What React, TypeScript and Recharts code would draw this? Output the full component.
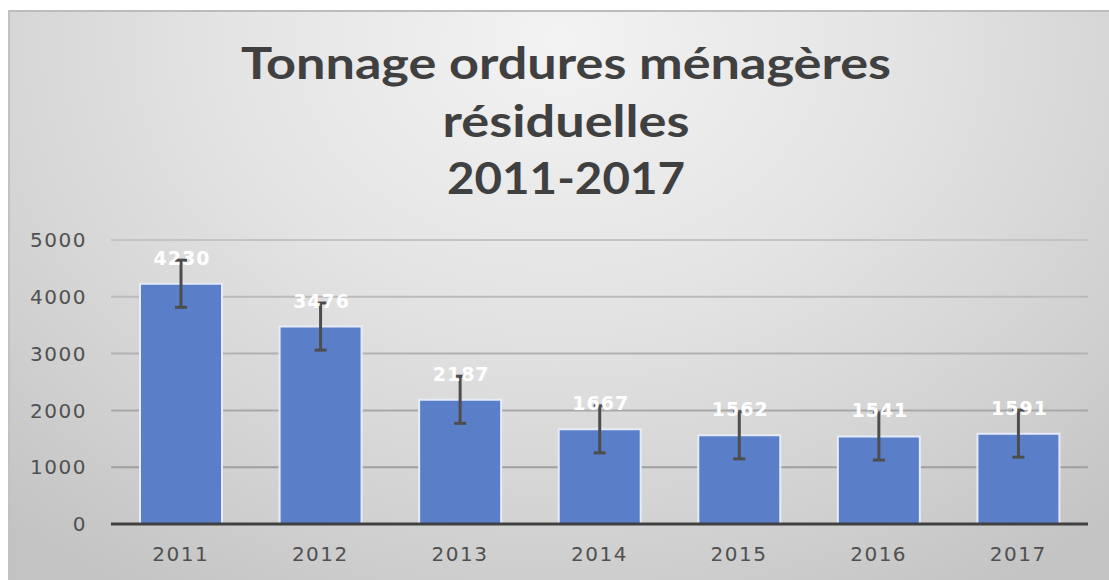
import React from 'react';
import { BarChart, Bar, XAxis, YAxis, CartesianGrid, ErrorBar, LabelList } from 'recharts';

const years = ['2011', '2012', '2013', '2014', '2015', '2016', '2017'];
const tonnage = [4230, 3476, 2187, 1667, 1562, 1541, 1591];
const errors = [415, 415, 415, 415, 415, 415, 415];
const yTicks = [0, 1000, 2000, 3000, 4000, 5000];
const titleLines = ['Tonnage ordures ménagères', 'résiduelles', '2011-2017'];

const data = years.map((y, i) => ({ year: y, value: tonnage[i], err: errors[i] }));

const tickStyle = {
  fill: '#505050',
  fontFamily: 'DejaVu Sans',
  fontSize: 20,
  letterSpacing: 1.5,
};

const renderLabel = (props: any) => {
  const { x, y, width, value } = props;
  return (
    <text
      x={Number(x) + Number(width) / 2 + 1}
      y={Number(y) - 19}
      textAnchor="middle"
      fill="#ffffff"
      fontFamily="DejaVu Sans"
      fontWeight="bold"
      fontSize={19}
      letterSpacing={1}
    >
      {value}
    </text>
  );
};

export default function App() {
  return (
    <div>
      <style>{`html,body{overflow:hidden;}`}</style>
      <div
        style={{
          position: 'absolute',
          left: 8,
          top: 10,
          width: 1101,
          height: 570,
          boxSizing: 'border-box',
          borderTop: '2px solid #bcbcbc',
          borderLeft: '2px solid #c2c2c2',
          background:
            'radial-gradient(ellipse 75% 115% at 50% 5%, #f3f3f3 0%, #e4e4e4 40%, #d2d2d2 75%, #c3c3c3 100%)',
        }}
      />
      <div style={{ position: 'absolute', left: 0, top: 0 }}>
        <BarChart
          width={1109}
          height={580}
          data={data}
          margin={{ top: 240, right: 21, bottom: 26, left: 0 }}
          barCategoryGap="20%"
        >
          <defs>
            <linearGradient id="gridGrad" gradientUnits="userSpaceOnUse" x1="0" y1="240" x2="0" y2="524">
              <stop offset="0%" stopColor="#c4c4c4" />
              <stop offset="100%" stopColor="#969696" />
            </linearGradient>
          </defs>
          <CartesianGrid vertical={false} stroke="url(#gridGrad)" strokeWidth={2} />
          <XAxis
            dataKey="year"
            tickLine={false}
            tickSize={0}
            tickMargin={23}
            axisLine={{ stroke: '#404040', strokeWidth: 3 }}
            tick={tickStyle}
          />
          <YAxis
            width={111}
            domain={[0, 5000]}
            ticks={yTicks}
            tickLine={false}
            axisLine={false}
            tickSize={0}
            tickMargin={24}
            tick={tickStyle}
          />
          <Bar
            dataKey="value"
            fill="#5a7fc8"
            stroke="#e6ecf7"
            strokeWidth={2}
            barSize={82}
            isAnimationActive={false}
          >
            <ErrorBar dataKey="err" width={6} strokeWidth={3} stroke="#4d4d4d" />
            <LabelList dataKey="value" content={renderLabel} />
          </Bar>
        </BarChart>
      </div>
      <svg
        width={1109}
        height={580}
        style={{ position: 'absolute', left: 0, top: 0, pointerEvents: 'none' }}
      >
        {titleLines.map((t, i) => (
          <text
            key={i}
            x={566}
            y={79 + i * 57.5}
            textAnchor="middle"
            fill="#404040"
            fontFamily="Lato"
            fontWeight="bold"
            fontSize={44}
            textLength={[650, 247, 238][i]}
            lengthAdjust="spacingAndGlyphs"
          >
            {t}
          </text>
        ))}
      </svg>
    </div>
  );
}
